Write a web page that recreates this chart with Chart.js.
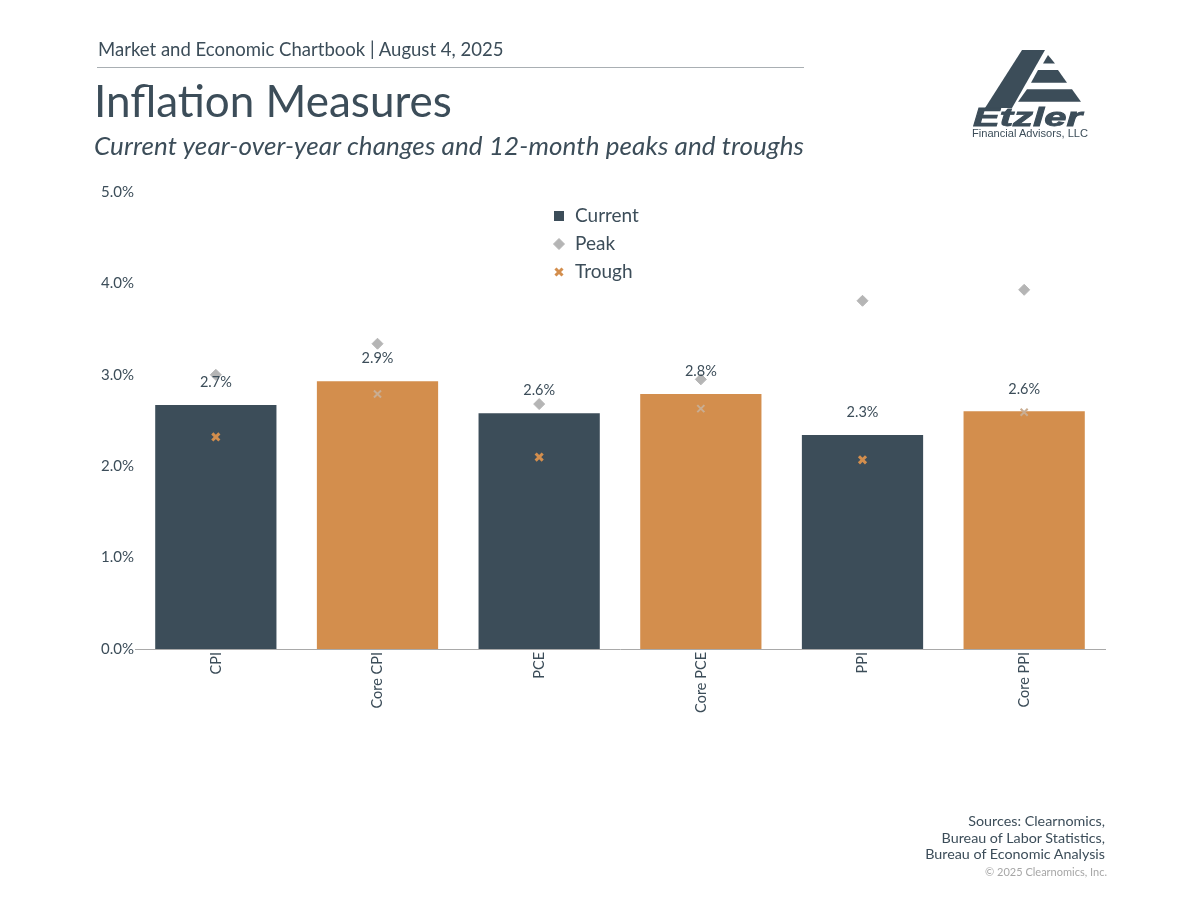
<!DOCTYPE html>
<html>
<head>
<meta charset="utf-8">
<title>Inflation Measures</title>
<script src="https://cdn.jsdelivr.net/npm/chart.js@4"></script>
<style>
html,body{margin:0;padding:0;background:#fff;}
body{width:1200px;height:900px;position:relative;overflow:hidden;font-family:Lato,sans-serif;color:#3c4d59;}
canvas{position:absolute;left:0;top:0;}
.txt{position:absolute;white-space:nowrap;}
#book{left:98px;top:37px;font-size:18.55px;line-height:24px;}
#rule{position:absolute;left:97px;top:67px;width:707px;height:1px;background:#a9afb3;}
#title{left:94px;top:73px;font-size:44px;line-height:54px;}
#sub{left:94px;top:129px;font-size:26px;line-height:32px;font-style:italic;letter-spacing:0.1px;}
#src{right:95px;top:813px;font-size:14.3px;line-height:16.5px;text-align:right;}
#copy{right:93px;top:865px;font-size:11px;line-height:14px;color:#a7a7a7;}
#logo{position:absolute;left:960px;top:40px;}
</style>
</head>
<body>
<canvas id="chart" width="1200" height="900"></canvas>
<div class="txt" id="book">Market and Economic Chartbook | August 4, 2025</div>
<div id="rule"></div>
<div class="txt" id="title">Inflation Measures</div>
<div class="txt" id="sub">Current year-over-year changes and 12-month peaks and troughs</div>
<div class="txt" id="src">Sources: Clearnomics,<br>Bureau of Labor Statistics,<br>Bureau of Economic Analysis</div>
<div class="txt" id="copy">© 2025 Clearnomics, Inc.</div>
<svg id="logo" width="140" height="105" viewBox="960 40 140 105">
  <g fill="#3c4d59">
    <polygon points="1022,50 1045,50 1012,108 985,108"/>
    <polygon points="1048,55 1055,63.5 1043,63.5"/>
    <polygon points="1038,70 1058,70 1067,82.7 1031,82.7"/>
    <polygon points="1027,89.3 1072,89.3 1081,101.7 1018,101.7"/>
    <text x="973" y="126" font-family="Liberation Sans" font-weight="bold" font-style="italic" font-size="26" stroke="#3c4d59" stroke-width="0.8" textLength="109" lengthAdjust="spacingAndGlyphs">Etzler</text>
  </g>
  <text x="972" y="136.5" font-family="Liberation Sans" font-size="10.5" fill="#3c4d59" textLength="116" lengthAdjust="spacingAndGlyphs">Financial Advisors, LLC</text>
</svg>
<script>
const categories = ['CPI', 'Core CPI', 'PCE', 'Core PCE', 'PPI', 'Core PPI'];
const current = [2.67, 2.93, 2.58, 2.79, 2.34, 2.60];
const peak = [3.00, 3.34, 2.68, 2.95, 3.81, 3.93];
const trough = [2.32, 2.79, 2.10, 2.63, 2.07, 2.59];
const currentLabels = ['2.7%', '2.9%', '2.6%', '2.8%', '2.3%', '2.6%'];
const legendNames = ['Current', 'Peak', 'Trough'];

const navy = '#3c4d59';
const orange = '#d38e4d';
const grey = '#b5b5b5';
const font = 'Lato';

// value labels above the bars
const barLabels = {
	id: 'barLabels',
	afterDatasetsDraw(chart) {
		const c = chart.ctx;
		const bars = chart.getDatasetMeta(0).data;
		c.save();
		c.font = '14.5px ' + font;
		c.fillStyle = navy;
		c.textAlign = 'center';
		c.textBaseline = 'middle';
		bars.forEach((b, i) => c.fillText(currentLabels[i], b.x, b.y - 22.5));
		c.restore();
	}
};

// legend sits inside the plot, stacked in the middle
const stackedLegend = {
	id: 'stackedLegend',
	afterDraw(chart) {
		const c = chart.ctx;
		const sets = chart.data.datasets;
		c.save();
		c.font = '19px ' + font;
		c.textBaseline = 'middle';
		legendNames.forEach((name, i) => {
			const y = 216 + i * 28;
			const d = sets[i];
			if (i === 0) {
				c.fillStyle = navy;
				c.fillRect(554, y - 5, 10, 10);
			} else {
				c.fillStyle = d.legendColor;
				c.strokeStyle = d.legendColor;
				c.lineWidth = d.borderWidth;
				Chart.helpers.drawPoint(c, {
					pointStyle: d.pointStyle,
					radius: d.pointRadius,
					borderWidth: d.borderWidth
				}, 559, y);
			}
			c.fillStyle = navy;
			c.fillText(name, 575, y);
		});
		c.restore();
	}
};

new Chart(document.getElementById('chart'), {
	type: 'bar',
	data: {
		labels: categories,
		datasets: [{
			label: 'Current',
			data: current,
			backgroundColor: categories.map((c, i) => i % 2 ? orange : navy),
			categoryPercentage: 0.75,
			barPercentage: 1,
			order: 3
		}, {
			type: 'line',
			label: 'Peak',
			data: peak,
			showLine: false,
			pointStyle: 'rectRot',
			pointRadius: 5.5,
			borderWidth: 1,
			legendColor: grey,
			pointBackgroundColor: grey,
			pointBorderColor: grey,
			order: 2
		}, {
			type: 'line',
			label: 'Trough',
			data: trough,
			showLine: false,
			pointStyle: 'crossRot',
			pointRadius: 5,
			borderWidth: 3,
			legendColor: orange,
			pointBorderColor: categories.map((c, i) => i % 2 ? '#c9ad92' : orange),
			pointBorderWidth: categories.map((c, i) => i % 2 ? 2 : 3),
			order: 1
		}]
	},
	options: {
		responsive: false,
		animation: false,
		devicePixelRatio: 1,
		layout: {padding: {left: 85, right: 95, top: 192, bottom: 175}},
		plugins: {legend: {display: false}, tooltip: {enabled: false}},
		scales: {
			x: {
				grid: {display: false, drawTicks: false},
				border: {color: '#a9a9a9', width: 1},
				ticks: {
					color: navy,
					font: {family: font, size: 14.5},
					minRotation: 90,
					maxRotation: 90,
					padding: 3
				},
				afterFit(s) { s.height = 76; }
			},
			y: {
				min: 0,
				max: 5,
				grid: {display: false, drawTicks: false},
				border: {display: false},
				ticks: {
					stepSize: 1,
					color: navy,
					padding: 1,
					font: {family: font, size: 15},
					callback: v => v.toFixed(1) + '%'
				},
				afterFit(s) { s.width = 50; }
			}
		}
	},
	plugins: [barLabels, stackedLegend]
});
</script>
</body>
</html>
